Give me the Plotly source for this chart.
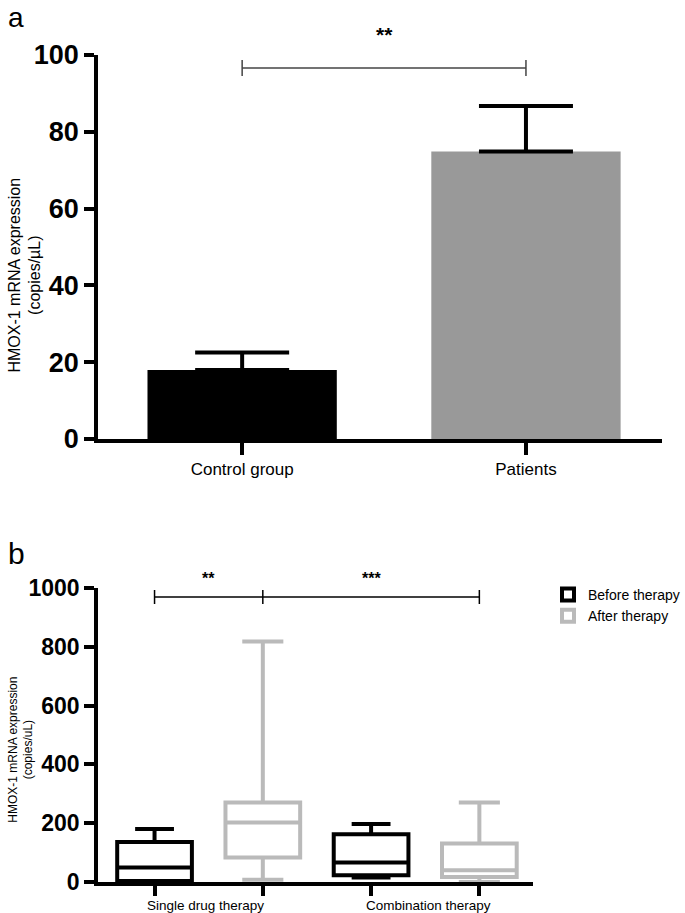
import plotly.graph_objects as go

# ---- Panel a data ----
groups_a = ["Control group", "Patients"]
means_a = [18.0, 74.9]
err_a = [4.5, 11.8]
colors_a = ["#000000", "#999999"]

# ---- Panel b data ----
box_groups = ["Single drug therapy", "Combination therapy"]
series = ["Before therapy", "After therapy"]
before_lf = [0, 15]
before_q1 = [3, 23]
before_med = [49, 66]
before_q3 = [136, 162]
before_uf = [180, 197]
after_lf = [8, 0]
after_q1 = [83, 17]
after_med = [202, 40]
after_q3 = [270, 131]
after_uf = [818, 270]

W, H = 685, 913
def px(x):
    return x / W
def py(y):
    return 1 - y / H

BOLD = "Liberation Sans, Arial"
REG = "Liberation Sans, Arial"

fig = go.Figure()

for i, g in enumerate(groups_a):
    fig.add_trace(go.Bar(
        x=[i], y=[means_a[i]], width=0.667, marker_color=colors_a[i],
        marker_line_width=0,
        error_y=dict(type="data", array=[err_a[i]], arrayminus=[0], symmetric=False,
                     color="#000000", thickness=4, width=47),
        xaxis="x", yaxis="y", showlegend=False))

box_x_before = [1, 3]
box_x_after = [2, 4]
fig.add_trace(go.Box(
    x=box_x_before, q1=before_q1, median=before_med, q3=before_q3,
    lowerfence=before_lf, upperfence=before_uf, name=series[0],
    line=dict(color="#000000", width=4), fillcolor="white",
    width=0.69, whiskerwidth=0.52, xaxis="x2", yaxis="y2", boxpoints=False))
fig.add_trace(go.Box(
    x=box_x_after, q1=after_q1, median=after_med, q3=after_q3,
    lowerfence=after_lf, upperfence=after_uf, name=series[1],
    line=dict(color="#bababa", width=4), fillcolor="white",
    width=0.69, whiskerwidth=0.55, xaxis="x2", yaxis="y2", boxpoints=False))

axis_common = dict(showline=True, linecolor="black", linewidth=4, ticks="outside",
                   tickcolor="black", tickwidth=4, showgrid=False, zeroline=False,
                   automargin=False)

fig.update_layout(
    width=W, height=H, margin=dict(l=0, r=0, t=0, b=0),
    paper_bgcolor="white", plot_bgcolor="white",
    boxmode="overlay",
    xaxis=dict(domain=[px(100), px(674)], range=[-0.507, 1.48], tickvals=[0, 1],
               ticktext=groups_a, ticklen=12, anchor="y",
               tickfont=dict(family=REG, size=17, color="black"), **axis_common),
    yaxis=dict(domain=[py(439), py(55)], range=[0, 100], tickvals=[0, 20, 40, 60, 80, 100],
               ticklen=10, anchor="x",
               tickfont=dict(family=BOLD, size=27, color="black", weight="bold"), **axis_common),
    xaxis2=dict(domain=[px(100), px(543)], range=[0.48, 4.5], tickvals=[1, 2, 3, 4],
                ticktext=["", "", "", ""], ticklen=10, anchor="y2", **axis_common),
    yaxis2=dict(domain=[py(882), py(588)], range=[0, 1000],
                tickvals=[0, 200, 400, 600, 800, 1000], ticklen=10, anchor="x2",
                tickfont=dict(family=BOLD, size=23, color="black", weight="bold"), **axis_common),
    legend=dict(x=px(558), y=py(579), xanchor="left", yanchor="top",
                font=dict(family=REG, size=14, color="black"), bgcolor="rgba(0,0,0,0)",
                itemwidth=30, tracegroupgap=2),
    showlegend=True,
)

shapes = []
# panel a bracket
sb = dict(type="line", xref="x", yref="y", line=dict(color="#444444", width=1.5))
shapes.append({**sb, "x0": 0, "x1": 1, "y0": 96.6, "y1": 96.6})
shapes.append({**sb, "x0": 0, "x1": 0, "y0": 94.5, "y1": 98.7})
shapes.append({**sb, "x0": 1, "x1": 1, "y0": 94.5, "y1": 98.7})
# panel b brackets
sb2 = dict(type="line", xref="x2", yref="y2", line=dict(color="#000000", width=1.5))
shapes.append({**sb2, "x0": 1, "x1": 4, "y0": 969, "y1": 969})
for xv in [1, 2, 4]:
    shapes.append({**sb2, "x0": xv, "x1": xv, "y0": 946, "y1": 993})
fig.update_layout(shapes=shapes)

ann = []
ann.append(dict(text="a", x=px(6), y=py(0), xref="paper", yref="paper", xanchor="left",
                yanchor="top", showarrow=False, font=dict(family=REG, size=28, color="black")))
ann.append(dict(text="b", x=px(6), y=py(553), xref="paper", yref="paper", xanchor="left",
                yanchor="middle", showarrow=False, font=dict(family=REG, size=30, color="black")))
ann.append(dict(text="**", x=0.5, y=py(35), xref="x", yref="paper", showarrow=False,
                yanchor="middle", font=dict(family=BOLD, size=21, color="black", weight="bold")))
ann.append(dict(text="**", x=1.5, y=py(578), xref="x2", yref="paper", showarrow=False,
                yanchor="middle", font=dict(family=BOLD, size=16, color="black", weight="bold")))
ann.append(dict(text="***", x=3.0, y=py(578), xref="x2", yref="paper", showarrow=False,
                yanchor="middle", font=dict(family=BOLD, size=16, color="black", weight="bold")))
ann.append(dict(text="HMOX-1 mRNA expression<br>(copies/µL)", x=px(25), y=py(275),
                xref="paper", yref="paper", textangle=-90, showarrow=False,
                xanchor="center", yanchor="middle",
                font=dict(family=REG, size=16, color="black")))
ann.append(dict(text="HMOX-1 mRNA expression<br>(copies/uL)", x=px(21), y=py(750),
                xref="paper", yref="paper", textangle=-90, showarrow=False,
                xanchor="center", yanchor="middle",
                font=dict(family=REG, size=12, color="black")))
for g, xv in zip(box_groups, [1.47, 3.53]):
    ann.append(dict(text=g, x=xv, y=py(905), xref="x2", yref="paper", yanchor="middle",
                    showarrow=False, font=dict(family=REG, size=13.5, color="black")))
fig.update_layout(annotations=ann)

post = ("document.body.style.margin='0';"
        "var d=document.getElementById('{plot_id}');"
        "d.style.position='fixed';d.style.left='0';d.style.top='0';")
fig.write_html("out.html", post_script=post, config={"displayModeBar": False})
